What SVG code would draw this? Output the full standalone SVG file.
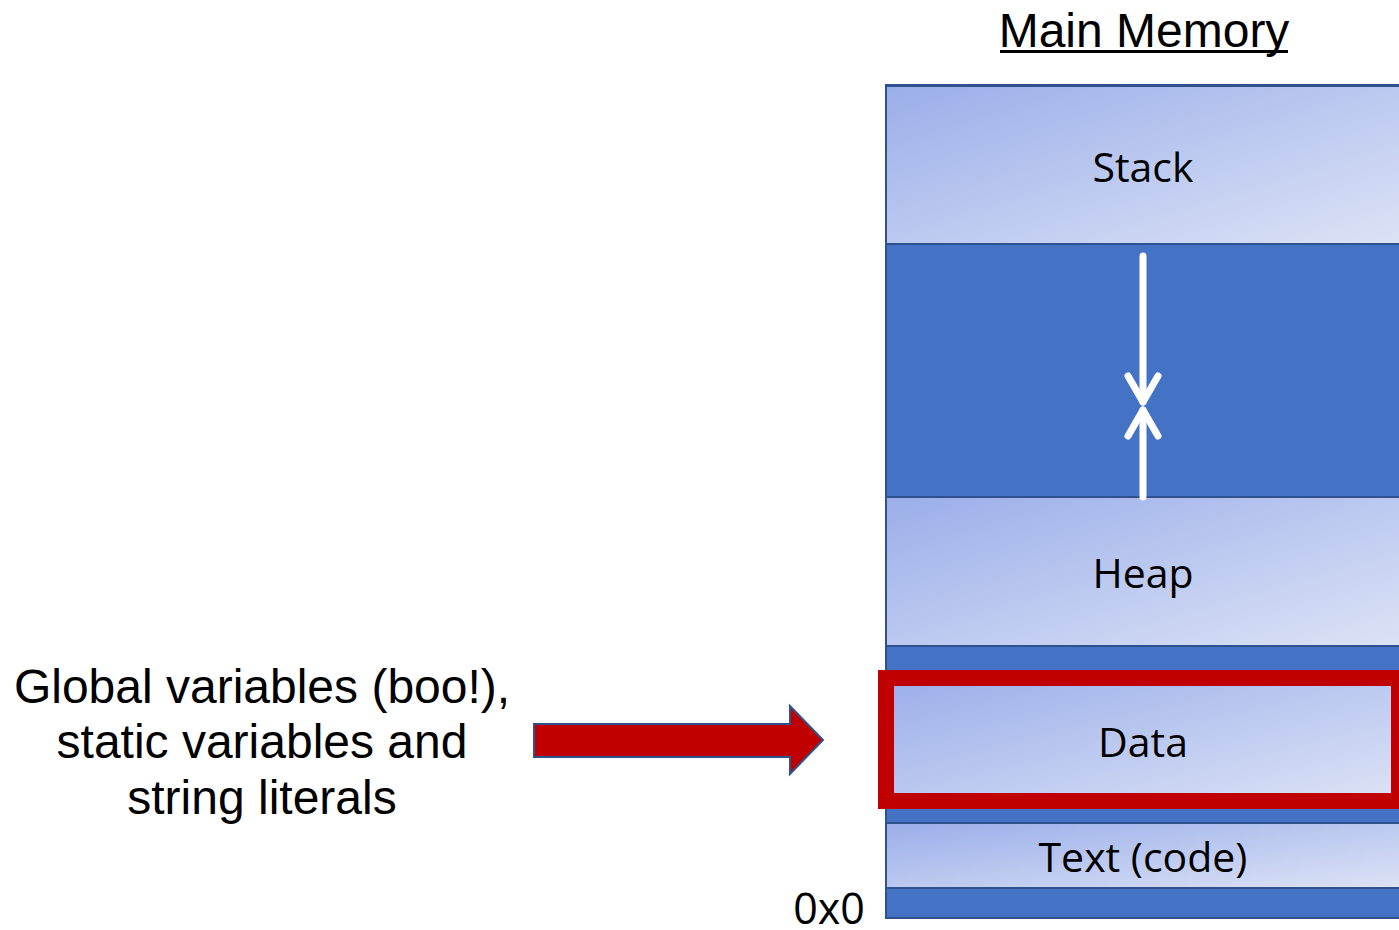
<svg xmlns="http://www.w3.org/2000/svg" width="1399" height="930" viewBox="0 0 1399 930">
  <defs>
    <linearGradient id="seg" x1="0" y1="0" x2="1" y2="1">
      <stop offset="0" stop-color="#9AAEE9"/>
      <stop offset="1" stop-color="#DDE3F6"/>
    </linearGradient>
    <style>
      .seg { fill: url(#seg); stroke: #2F528F; stroke-width: 2; }
      .lbl { font-family: "Open Sans", "Noto Sans", sans-serif; font-size: 41px; fill: #000; text-anchor: middle; }
      .cap { font-family: "Liberation Sans", Arial, sans-serif; font-size: 48px; fill: #000; text-anchor: middle; }
      .grow { stroke: #fff; stroke-width: 7; fill: none; stroke-linecap: round; stroke-linejoin: round; }
    </style>
  </defs>
  <rect width="1399" height="930" fill="#fff"/>

  <!-- title -->
  <g id="title">
    <text class="cap" x="1144" y="47">Main Memory</text>
    <rect x="1000" y="50" width="288" height="3" fill="#000"/>
  </g>

  <!-- memory column background -->
  <g id="memory">
    <rect x="886" y="85" width="520" height="833" fill="#4472C4" stroke="#2F528F" stroke-width="2"/>
  </g>

  <g id="stack">
    <rect class="seg" x="886" y="86" width="520" height="158"/>
    <text class="lbl" x="1143" y="182">Stack</text>
  </g>

  <g id="heap">
    <rect class="seg" x="886" y="497" width="520" height="149"/>
    <text class="lbl" x="1143" y="588">Heap</text>
  </g>

  <g id="data">
    <rect class="seg" x="886" y="678" width="513" height="123"/>
    <rect x="886" y="678" width="513" height="123" fill="none" stroke="#C00000" stroke-width="16"/>
    <text class="lbl" x="1143" y="757">Data</text>
  </g>

  <g id="text-seg">
    <rect class="seg" x="886" y="823" width="520" height="65"/>
    <text class="lbl" x="1143" y="872">Text (code)</text>
  </g>

  <g id="addr">
    <text x="829" y="924" font-family="Open Sans, Noto Sans, sans-serif" font-size="43" text-anchor="middle">0x0</text>
  </g>

  <g id="note">
    <text class="cap" x="262" y="703">Global variables (boo!),</text>
    <text class="cap" x="262" y="758">static variables and</text>
    <text class="cap" x="262" y="814">string literals</text>
  </g>

  <!-- connectors -->
  <g id="connectors">
    <!-- stack grows down, heap grows up -->
    <line class="grow" x1="1143" y1="256" x2="1143" y2="402"/>
    <polyline class="grow" points="1128,376 1143,402 1158,376"/>
    <line class="grow" x1="1143" y1="497" x2="1143" y2="410"/>
    <polyline class="grow" points="1128,436 1143,410 1158,436"/>
    <!-- pointer to data segment -->
    <polygon points="534,724 790,724 790,706 823,740 790,774 790,757 534,757" fill="#C00000" stroke="#2F528F" stroke-width="2"/>
  </g>
</svg>
